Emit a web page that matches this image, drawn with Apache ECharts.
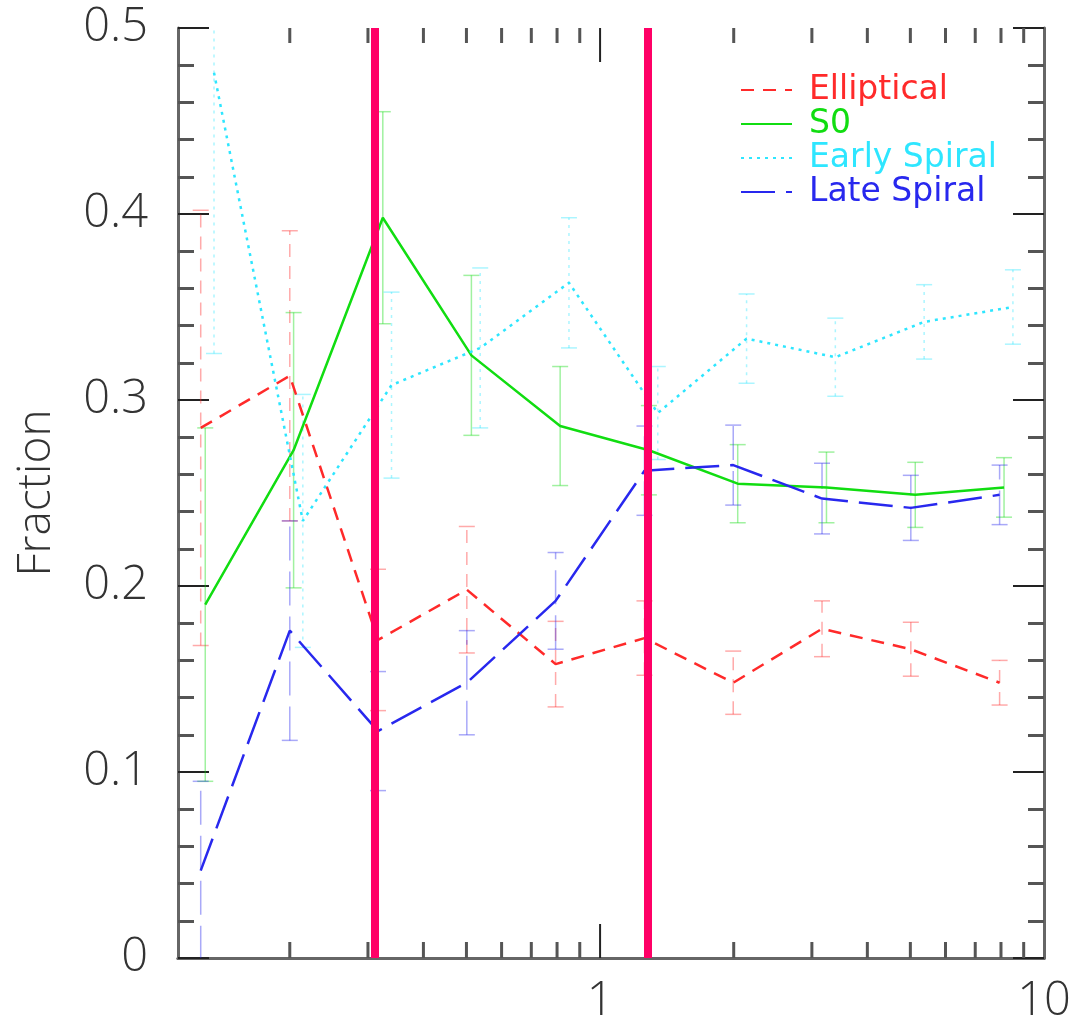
<!DOCTYPE html>
<html><head><meta charset="utf-8">
<script src="https://cdn.jsdelivr.net/npm/echarts@6/dist/echarts.min.js"></script>
<style>html,body{margin:0;padding:0;background:#fff}#c{width:1071px;height:1020px}</style>
</head><body><div id="c"></div>
<script>
// ---- data ----
const seriesNames = ['Elliptical', 'S0', 'Early Spiral', 'Late Spiral'];
const xEll   = [0.126, 0.200, 0.316, 0.501, 0.794, 1.259, 1.995, 3.162, 5.012, 7.943];
const yEll   = [0.285, 0.313, 0.171, 0.198, 0.158, 0.172, 0.148, 0.177, 0.166, 0.148];
const eEll   = [0.117, 0.078, 0.038, 0.034, 0.023, 0.020, 0.017, 0.015, 0.0145, 0.012];
const xS0    = [0.129, 0.204, 0.324, 0.513, 0.813, 1.288, 2.042, 3.236, 5.129, 8.128];
const yS0    = [0.190, 0.273, 0.398, 0.324, 0.286, 0.273, 0.255, 0.253, 0.249, 0.253];
const eS0    = [0.095, 0.074, 0.057, 0.043, 0.032, 0.024, 0.021, 0.019, 0.0175, 0.016];
const xES    = [0.135, 0.214, 0.339, 0.537, 0.851, 1.349, 2.138, 3.388, 5.370, 8.511];
const yES    = [0.476, 0.235, 0.308, 0.328, 0.363, 0.293, 0.333, 0.323, 0.342, 0.350];
const eES    = [0.151, 0.068, 0.050, 0.043, 0.035, 0.025, 0.024, 0.021, 0.020, 0.020];
const xLS    = [0.126, 0.200, 0.316, 0.501, 0.794, 1.259, 1.995, 3.162, 5.012, 7.943];
const yLS    = [0.047, 0.176, 0.122, 0.148, 0.192, 0.262, 0.265, 0.247, 0.242, 0.249];
const eLS    = [0.048, 0.059, 0.032, 0.028, 0.026, 0.024, 0.0215, 0.019, 0.0175, 0.016];
const dividers = [0.312, 1.276];
const xMajorTicks = [1];
const xMinorTicks = [0.2, 0.3, 0.4, 0.5, 0.6, 0.7, 0.8, 0.9, 2, 3, 4, 5, 6, 7, 8, 9];
const xRange = [0.112, 10];
const yRange = [0, 0.5];
const yTickStep = 0.1;

// ---- styling ----
const FONT = "'Open Sans', 'DejaVu Sans', sans-serif";
const FW = 300;
const TXT = '#333';
const LEGFONT = 'DejaVu Sans';
const colors = ['#ff2a2a', '#11dd11', '#2ee6ff', '#2828ee'];
const dashes = [[13, 9], null, [3, 5], [34, 11]];

const chart = echarts.init(document.getElementById('c'), null, {renderer: 'canvas'});

function lineSeries(i, xs, ys) {
  return {
    type: 'line', name: seriesNames[i], data: xs.map((x, k) => [x, ys[k]]),
    symbol: 'none', z: 3, silent: true,
    lineStyle: {color: colors[i], width: 2.5, type: dashes[i] || 'solid'},
    itemStyle: {color: colors[i]},
    emphasis: {disabled: true}
  };
}
function errSeries(i, xs, ys, es) {
  const color = colors[i], dash = dashes[i];
  return {
    type: 'custom', name: seriesNames[i] + ' err', clip: true, z: 2, silent: true,
    data: xs.map((x, k) => [x, ys[k] - es[k], ys[k] + es[k]]),
    encode: {x: 0, y: [1, 2]},
    renderItem: function (params, api) {
      const lo = api.coord([api.value(0), api.value(1)]);
      const hi = api.coord([api.value(0), api.value(2)]);
      const cw = 8;
      const st = {stroke: color, lineWidth: 1.5, opacity: 0.4};
      return {type: 'group', children: [
        {type: 'line', shape: {x1: lo[0], y1: lo[1], x2: hi[0], y2: hi[1]}, style: Object.assign({lineDash: dash || null}, st)},
        {type: 'line', shape: {x1: lo[0] - cw, y1: lo[1], x2: lo[0] + cw, y2: lo[1]}, style: st},
        {type: 'line', shape: {x1: hi[0] - cw, y1: hi[1], x2: hi[0] + cw, y2: hi[1]}, style: st}
      ]};
    }
  };
}
function xTickSeries(name, values, lenBottom, lenTop, color, width) {
  return {
    type: 'custom', name: name, silent: true, z: 4,
    data: values.map(v => [v, yRange[0]]),
    encode: {x: 0, y: 1},
    renderItem: function (params, api) {
      const b = api.coord([api.value(0), yRange[0]]);
      const t = api.coord([api.value(0), yRange[1]]);
      const st = {stroke: color, lineWidth: width};
      return {type: 'group', children: [
        {type: 'line', shape: {x1: b[0], y1: b[1], x2: b[0], y2: b[1] - lenBottom}, style: st},
        {type: 'line', shape: {x1: t[0], y1: t[1], x2: t[0], y2: t[1] + lenTop}, style: st}
      ]};
    }
  };
}

const axLine = {show: true, lineStyle: {color: '#666', width: 3}};
const xAxisBase = {
  type: 'log', logBase: 10, min: xRange[0], max: xRange[1],
  axisLine: axLine, splitLine: {show: false}, axisTick: {show: false}
};
const yAxisBase = {
  type: 'value', min: yRange[0], max: yRange[1], interval: yTickStep,
  axisLine: axLine, splitLine: {show: false},
  axisTick: {show: true, inside: true, length: 31, lineStyle: {color: '#222', width: 2}},
  minorTick: {show: true, splitNumber: 5, length: 16, lineStyle: {color: '#555', width: 3}}
};

const mainEll = lineSeries(0, xEll, yEll);
mainEll.markLine = {
  silent: true, symbol: ['none', 'none'], z: 6, animation: false,
  label: {show: false}, emphasis: {disabled: true},
  lineStyle: {color: '#ff0066', width: 8, type: 'solid', opacity: 1},
  data: dividers.map(v => ({xAxis: v}))
};

chart.setOption({
  animation: false,
  backgroundColor: '#fff',
  grid: {left: 178, right: 27, top: 28, bottom: 62, containLabel: false, outerBoundsMode: 'none'},
  legend: {
    orient: 'vertical', left: 735, top: 68, itemWidth: 51, itemHeight: 14, itemGap: 0,
    selectedMode: false,
    itemStyle: {opacity: 0},
    textStyle: {fontSize: 33, fontFamily: LEGFONT, lineHeight: 34, padding: [0, 0, 0, 12]},
    data: seriesNames.map((n, i) => ({name: n, textStyle: {color: colors[i]}}))
  },
  xAxis: [
    Object.assign({}, xAxisBase, {
      position: 'bottom',
      axisLabel: {show: true, showMinLabel: false, margin: 20, fontSize: 47, fontFamily: FONT, fontWeight: FW, color: TXT,
        formatter: v => (v >= 1 ? String(Math.round(v)) : '')}
    }),
    Object.assign({}, xAxisBase, {position: 'top', axisLabel: {show: false}})
  ],
  yAxis: [
    Object.assign({}, yAxisBase, {
      position: 'left', name: 'Fraction', nameLocation: 'middle', nameRotate: 90, nameGap: 118,
      nameTextStyle: {fontSize: 46, fontFamily: FONT, fontWeight: FW, color: TXT},
      axisLabel: {show: true, margin: 30, fontSize: 47, fontFamily: FONT, fontWeight: FW, color: TXT}
    }),
    Object.assign({}, yAxisBase, {position: 'right', axisLabel: {show: false}})
  ],
  series: [
    errSeries(0, xEll, yEll, eEll),
    errSeries(1, xS0, yS0, eS0),
    errSeries(2, xES, yES, eES),
    errSeries(3, xLS, yLS, eLS),
    mainEll,
    lineSeries(1, xS0, yS0),
    lineSeries(2, xES, yES),
    lineSeries(3, xLS, yLS),
    xTickSeries('xminor', xMinorTicks, 16, 15, '#555', 3),
    xTickSeries('xmajor', xMajorTicks, 34, 34, '#222', 2)
  ]
});
</script>
</body></html>
